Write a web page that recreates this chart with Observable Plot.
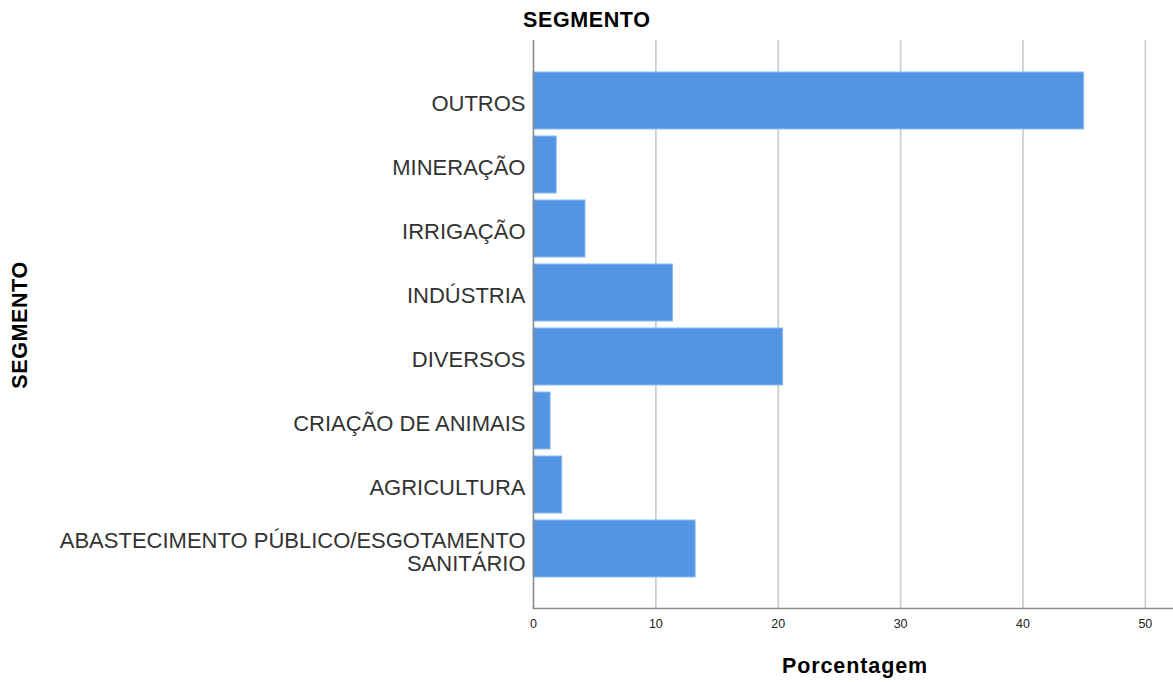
<!DOCTYPE html>
<html>
<head>
<meta charset="utf-8">
<script src="https://cdn.jsdelivr.net/npm/d3@7"></script>
<script src="https://cdn.jsdelivr.net/npm/@observablehq/plot@0.6"></script>
<style>
  html, body { margin: 0; padding: 0; background: #fff; }
  #wrap { position: relative; width: 1173px; height: 682px; font-family: "Liberation Sans", Arial, sans-serif; }
  #title { position: absolute; left: 523px; top: 8px; font-size: 21.5px; font-weight: bold; color: #000; letter-spacing: 0.6px; white-space: nowrap; }
  #ytitle { position: absolute; left: 20px; top: 325px; transform: translate(-50%, -50%) rotate(-90deg); font-size: 21.5px; font-weight: bold; color: #000; letter-spacing: 0.6px; white-space: nowrap; }
  #xtitle { position: absolute; left: 855px; top: 666px; transform: translate(-50%, -50%); font-size: 21.5px; font-weight: bold; color: #000; letter-spacing: 0.9px; white-space: nowrap; }
  #chart { position: absolute; left: 0; top: 40px; }
</style>
</head>
<body>
<div id="wrap">
  <div id="title"></div>
  <div id="chart"></div>
  <div id="ytitle"></div>
  <div id="xtitle"></div>
</div>
<script>
const categories = [
  "OUTROS",
  "MINERAÇÃO",
  "IRRIGAÇÃO",
  "INDÚSTRIA",
  "DIVERSOS",
  "CRIAÇÃO DE ANIMAIS",
  "AGRICULTURA",
  "ABASTECIMENTO PÚBLICO/ESGOTAMENTO\nSANITÁRIO"
];
const percentages = [45.0, 1.9, 4.25, 11.4, 20.4, 1.4, 2.35, 13.25];
const xTicks = [0, 10, 20, 30, 40, 50];
const gridTicks = [10, 20, 30, 40, 50];
const chartTitle = "SEGMENTO";
const yTitle = "SEGMENTO";
const xTitle = "Porcentagem";

document.getElementById("title").textContent = chartTitle;
document.getElementById("ytitle").textContent = yTitle;
document.getElementById("xtitle").textContent = xTitle;

const data = categories.map((c, i) => ({segmento: c, pct: percentages[i]}));

const chart = Plot.plot({
  width: 1173,
  height: 642,
  marginLeft: 533,
  marginRight: 0,
  marginTop: 0,
  marginBottom: 74,
  style: {fontFamily: "Liberation Sans, Arial, sans-serif", background: "#fff"},
  x: {domain: [0, 52.3], ticks: xTicks},
  y: {domain: categories, paddingInner: 0.11, paddingOuter: 0, insetTop: 29, insetBottom: 27.5},
  marks: [
    Plot.gridX(gridTicks, {stroke: "#c9c9c9", strokeOpacity: 1, strokeWidth: 1.6}),
    Plot.barX(data, {x: "pct", y: "segmento", fill: "#5495e3", stroke: "#8dbbf0", strokeWidth: 1}),
    Plot.ruleX([0], {stroke: "#8a8a8a", strokeWidth: 1.6}),
    Plot.frame({anchor: "bottom", stroke: "#8a8a8a", strokeWidth: 1.6}),
    Plot.axisX(xTicks, {tickSize: 0, tickPadding: 11, fontSize: 12.5, fill: "#222", label: null}),
    Plot.axisY({tickSize: 0, tickPadding: 8, fontSize: 22, fill: "#333", lineHeight: 1.05, label: null, dy: 3})
  ]
});
document.getElementById("chart").appendChild(chart);
</script>
</body>
</html>
